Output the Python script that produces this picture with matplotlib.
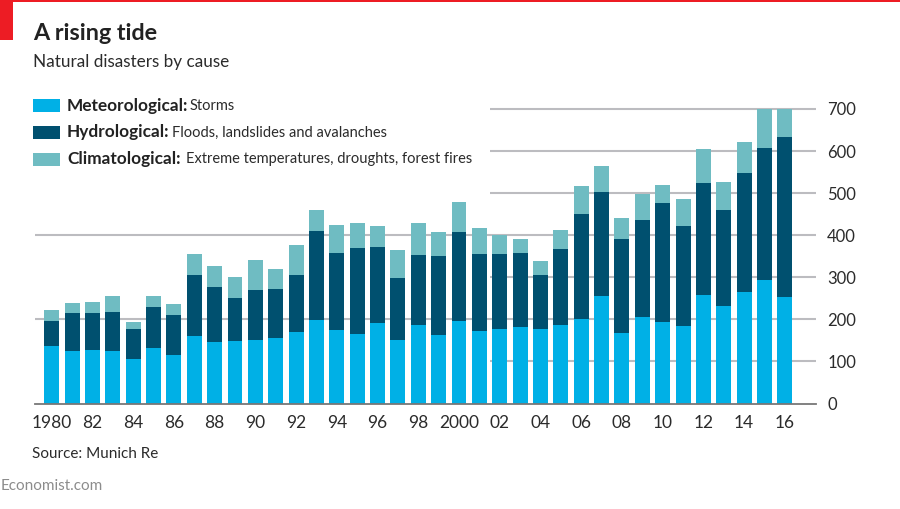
import matplotlib
matplotlib.use("Agg")
import matplotlib.pyplot as plt
from matplotlib.patches import Rectangle

W, H = 900, 509
years = list(range(1980, 2017))
meteorological = [137,124,128,125,105,133,115,160,146,148,150,155,170,198,175,166,192,150,186,163,
                  195,173,176,181,177,187,200,256,168,205,193,184,257,232,265,293,252]
hydrological = [59,92,88,92,73,97,95,146,131,103,119,117,135,211,182,204,179,148,168,187,
                212,183,180,177,129,181,250,246,222,230,284,239,266,228,283,315,381]
climatological = [26,22,25,38,16,26,26,50,50,49,71,47,72,51,68,58,52,67,74,58,
                  73,61,44,34,33,44,67,62,51,62,43,62,83,66,74,92,67]
x_tick_years = list(range(1980, 2017, 2))
x_tick_labels = ["1980","82","84","86","88","90","92","94","96","98","2000",
                 "02","04","06","08","10","12","14","16"]
y_ticks = [0,100,200,300,400,500,600,700]
long_grid = [200, 400]
short_grid = [100, 300, 500, 600, 700]
legend_rows = [("Meteorological:", "Storms"),
               ("Hydrological:", "Floods, landslides and avalanches"),
               ("Climatological:", "Extreme temperatures, droughts, forest fires")]
C_MET, C_HYD, C_CLI = "#00b0e6", "#00506f", "#6fbcc2"
TXT = "#2b2b2b"
plt.rcParams['font.family'] = ['Lato', 'DejaVu Sans']

fig = plt.figure(figsize=(W/100, H/100), dpi=100, facecolor="white")
ax = fig.add_axes([35/W, 1-403.5/H, (816-35)/W, (403.5-109)/H])
x0, x1 = 1979.18, 2017.53
ax.set_xlim(x0, x1)
ax.set_ylim(0, 700)
for s in ax.spines.values():
    s.set_visible(False)
ax.spines['bottom'].set_visible(True)
ax.spines['bottom'].set_color("#777777")
ax.spines['bottom'].set_linewidth(1.3)
ax.set_axisbelow(True)
grid_kw = dict(color="#bcbcc0", linewidth=1.5, zorder=0, clip_on=False)
ax.hlines(long_grid, x0, x1, **grid_kw)
ax.hlines(short_grid, 2001.53, x1, **grid_kw)

bw = 0.735
bottom2 = [a+b for a, b in zip(meteorological, hydrological)]
ax.bar(years, meteorological, width=bw, color=C_MET, zorder=2)
ax.bar(years, hydrological, width=bw, bottom=meteorological, color=C_HYD, zorder=2)
ax.bar(years, climatological, width=bw, bottom=bottom2, color=C_CLI, zorder=2)

ax.set_xticks(x_tick_years)
ax.set_xticklabels(x_tick_labels, fontsize=12.5, color=TXT)
ax.set_yticks(y_ticks)
ax.set_yticklabels([str(v) for v in y_ticks], fontsize=12, color=TXT)
ax.yaxis.tick_right()
ax.tick_params(axis='both', length=0)
ax.tick_params(axis='x', pad=8)
ax.tick_params(axis='y', pad=8)

def T(x, y, s, **kw):
    fig.text(x/W, 1-y/H, s, va='center', ha='left', **kw)

fig.add_artist(Rectangle((0, 1-40/H), 13/W, 40/H, transform=fig.transFigure, color="#ed1c24", lw=0))
fig.add_artist(Rectangle((0, 1-1.5/H), 1, 1.5/H, transform=fig.transFigure, color="#ed1c24", lw=0))
T(33, 33.5, "A rising tide", fontsize=16.8, fontweight='bold', color="#222222")
T(33, 62, "Natural disasters by cause", fontsize=12.3, color=TXT)
ys = [105.5, 132.5, 159]
regx = [189.5, 172.5, 185.5]
for (b, r), c, y, rx in zip(legend_rows, [C_MET, C_HYD, C_CLI], ys, regx):
    fig.add_artist(Rectangle((33/W, 1-(y+6.5)/H), 27/W, 13/H, transform=fig.transFigure, color=c, lw=0))
    T(67, y, b, fontsize=12.4, fontweight='bold', color="#222222")
    T(rx, y, r, fontsize=10.5, color=TXT)
T(32, 453.5, "Source: Munich Re", fontsize=11, color=TXT)
T(1, 485.5, "Economist.com", fontsize=11, color="#8c8c8c")
fig.savefig("out.png", dpi=100)
